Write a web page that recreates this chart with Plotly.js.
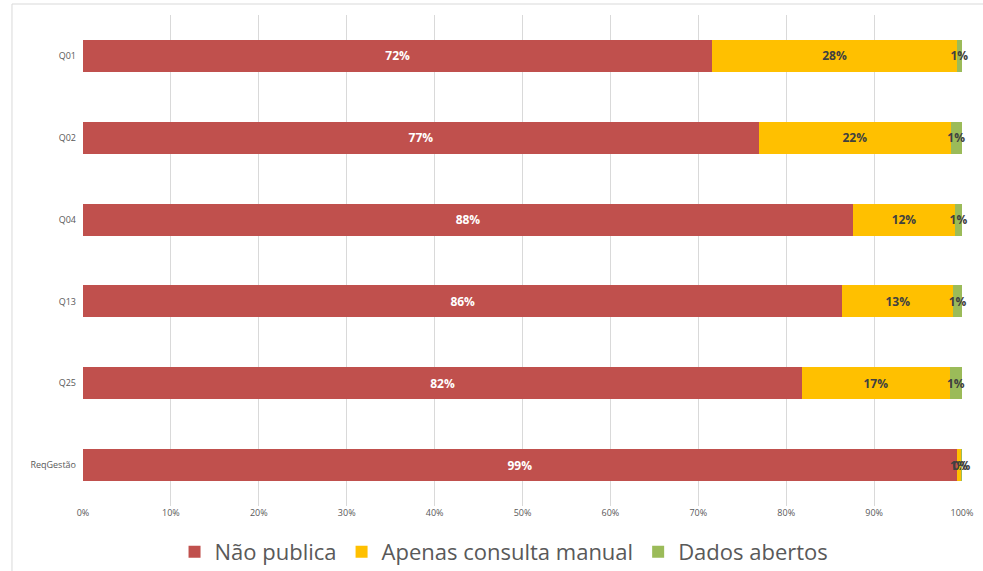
<!DOCTYPE html>
<html>
<head>
<meta charset="utf-8">
<script src="https://cdn.plot.ly/plotly-3.0.1.min.js"></script>
<style>html,body{margin:0;padding:0;background:#fff;}#chart{width:983px;height:571px;}</style>
</head>
<body>
<div id="chart"></div>
<script>
const categories = ["Q01", "Q02", "Q04", "Q13", "Q25", "ReqGestão"];
const naoPublica = [71.6, 76.9, 87.6, 86.4, 81.8, 99.4];
const apenasConsulta = [27.8, 21.8, 11.6, 12.6, 16.8, 0.5];
const dadosAbertos = [0.6, 1.3, 0.8, 1.0, 1.4, 0.1];
const labelsNao = ["72%", "77%", "88%", "86%", "82%", "99%"];
const labelsApenas = ["28%", "22%", "12%", "13%", "17%", "1%"];
const labelsDados = ["1%", "1%", "1%", "1%", "1%", "0%"];
const xTicks = [0, 10, 20, 30, 40, 50, 60, 70, 80, 90, 100];
const xTickLabels = xTicks.map(v => v + "%");

const fontFam = "'Liberation Sans Narrow', 'Open Sans', 'DejaVu Sans Condensed', sans-serif";
function series(name, vals, labels, color, txtColor) {
  return {
    type: "bar", orientation: "h", name: name,
    y: categories, x: vals, text: labels,
    textposition: "inside", insidetextanchor: "middle", constraintext: "none", textangle: 0,
    textfont: {family: fontFam, size: 12, color: txtColor, weight: "bold"},
    marker: {color: color, line: {width: 0}},
    hoverinfo: "skip", cliponaxis: false
  };
}
const data = [
  series("Não publica", naoPublica, labelsNao, "#C0504D", "#ffffff"),
  series("Apenas consulta manual", apenasConsulta, labelsApenas, "#FFC000", "#404040"),
  series("Dados abertos", dadosAbertos, labelsDados, "#9BBB59", "#404040")
];
const layout = {
  width: 983, height: 571,
  margin: {l: 83, r: 21, t: 15, b: 65, autoexpand: false},
  barmode: "stack", bargap: 0.61,
  paper_bgcolor: "#ffffff", plot_bgcolor: "#ffffff",
  font: {family: fontFam, color: "#595959"},
  xaxis: {
    range: [0, 100], tickvals: xTicks, ticktext: xTickLabels,
    showgrid: true, gridcolor: "#d9d9d9", gridwidth: 1,
    zeroline: false, showline: false, ticks: "",
    tickfont: {size: 9, color: "#595959"}, fixedrange: true
  },
  yaxis: {
    autorange: "reversed", showgrid: false, zeroline: false, showline: false,
    ticks: "", ticklabelstandoff: 6,
    tickfont: {size: 9, color: "#595959"}
  },
  showlegend: true,
  legend: {
    orientation: "h", x: 0.479, xanchor: "center", yref: "container", y: 0.07, yanchor: "top",
    font: {size: 22, color: "#595959", family: fontFam},
    itemwidth: 30, traceorder: "normal"
  },
  shapes: [{
    type: "rect", xref: "paper", yref: "paper",
    x0: -0.0808, x1: 1.2, y0: -0.3, y1: 1.0224,
    line: {color: "#d9d9d9", width: 1}, fillcolor: "rgba(0,0,0,0)", layer: "below"
  }]
};
Plotly.newPlot("chart", data, layout, {displayModeBar: false, staticPlot: true});
</script>
</body>
</html>
